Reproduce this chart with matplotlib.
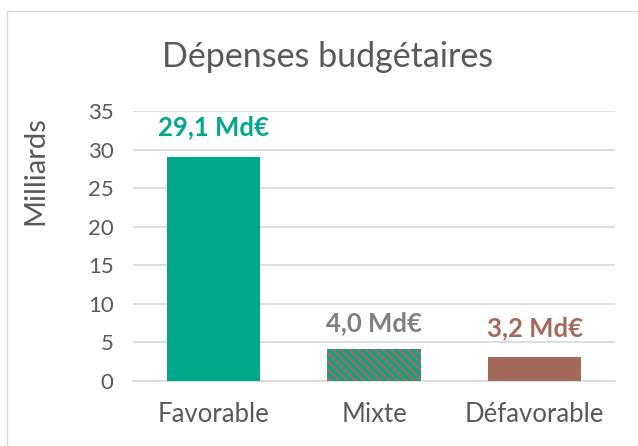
import matplotlib
matplotlib.use("Agg")
import matplotlib.pyplot as plt
from matplotlib.patches import Rectangle

categories = ["Favorable", "Mixte", "Défavorable"]
values = [29.1, 4.1, 3.05]
labels = ["29,1 Md€", "4,0 Md€", "3,2 Md€"]
label_y = [32.9, 7.5, 6.9]
yticks = [0, 5, 10, 15, 20, 25, 30, 35]

green = "#00A88A"
brown = "#A5695A"
grey_txt = "#595959"
label_colors = [green, "#7F7F7F", brown]

plt.rcParams['font.family'] = ['Lato', 'DejaVu Sans']
plt.rcParams['hatch.linewidth'] = 1.9

fig = plt.figure(figsize=(6.38, 4.46), dpi=100)
fig.patches.append(Rectangle((7/638, -0.1), 1.0, (446-11)/446 + 0.1, transform=fig.transFigure,
                             fill=False, edgecolor="#D9D9D9", linewidth=1.0))
ax = fig.add_axes([133/638, 1-381/446, (615-133)/638, (381-111)/446])

x = list(range(len(categories)))
bars = ax.bar(x, values, width=0.58, color=[green, green, brown], zorder=3)
bars[1].set_hatch("\\" * 4)
bars[1].set_edgecolor(brown)
bars[1].set_linewidth(0)

for xi, ly, lab, c in zip(x, label_y, labels, label_colors):
    ax.text(xi, ly, lab, ha="center", va="center", fontsize=18.5,
            fontweight="bold", color=c)

ax.set_xlim(-0.5, 2.5)
ax.set_ylim(0, 35)
ax.set_yticks(yticks)
ax.set_xticks(x)
ax.set_xticklabels(categories, fontsize=18.5, color=grey_txt)
ax.tick_params(axis="y", labelsize=16, labelcolor=grey_txt, length=0, pad=14)
ax.tick_params(axis="x", length=0, pad=15)
ax.grid(axis="y", color="#D9D9D9", linewidth=1.2, zorder=0)
for s in ["top", "right", "left"]:
    ax.spines[s].set_visible(False)
ax.spines["bottom"].set_color("#D9D9D9")
ax.spines["bottom"].set_linewidth(1.2)
ax.set_ylabel("Milliards", fontsize=21, color=grey_txt)
ax.yaxis.set_label_coords((35 - 133) / 482, (381 - 171) / 270)
ax.yaxis.label.set_verticalalignment("center")
fig.text(328/638, 1-57/446, "Dépenses budgétaires", ha="center", va="center",
         fontsize=24.5, color=grey_txt)

fig.savefig("out.png", dpi=100)
